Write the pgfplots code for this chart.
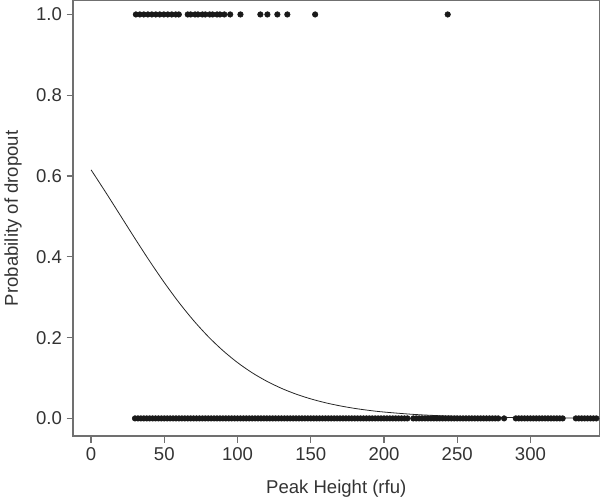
\documentclass[border=0pt]{standalone}
\usepackage{fontspec}
\setmainfont{Liberation Sans}
\usepackage{pgfplots}
\pgfplotsset{compat=1.18}
\definecolor{framegray}{HTML}{707070}
\definecolor{textgray}{HTML}{333333}
\begin{document}
\begin{tikzpicture}
\begin{axis}[
  width=397pt, height=328.5pt, scale only axis,
  xmin=-12.2, xmax=347, ymin=-0.0436, ymax=1.034,
  xtick={0,50,100,150,200,250,300},
  ytick={0,0.2,0.4,0.6,0.8,1.0},
  yticklabel style={/pgf/number format/.cd,fixed,fixed zerofill,precision=1},
  /pgf/number format/assume math mode=true,
  tick align=outside, tick pos=left,
  major tick length=5pt,
  axis line style={framegray, line width=1.1pt},
  every tick/.style={framegray, line width=0.9pt},
  ticklabel style={font=\fontsize{14}{16}\selectfont, text=textgray},
  label style={font=\fontsize{14}{16}\selectfont, text=textgray},
  xlabel={Peak Height (rfu)},
  ylabel={Probability of dropout},
  xlabel style={yshift=-8pt},
  ylabel style={yshift=4pt},
]
% fitted curve
\addplot[no marks, black!85, line width=0.6pt, smooth] coordinates {
  (0,0.6154) (10,0.5597) (20,0.5025) (30,0.4452) (40,0.3894) (50,0.3363)
  (60,0.2870) (70,0.2423) (80,0.2026) (90,0.1680) (100,0.1382) (110,0.1130)
  (120,0.0920) (130,0.0745) (140,0.0601) (150,0.0484) (160,0.0388) (170,0.0311)
  (180,0.0248) (190,0.0198) (200,0.0158) (220,0.0100) (240,0.0064) (260,0.0040)
  (280,0.0025) (300,0.0016) (320,0.0010) (340,0.0006)
};
% dropouts (1)
\addplot[only marks, mark=*, mark size=2.1pt, black!90] coordinates {
  (30.6,1) (33.3,1) (36,1) (38.8,1) (41.5,1) (44.2,1) (46.9,1) (49.7,1)
  (52.4,1) (55.1,1) (57.8,1) (59.9,1)
  (66,1) (68,1) (71,1) (73,1) (76,1) (78,1) (81,1) (83,1) (86,1) (88,1)
  (91,1) (95,1) (102,1) (115.6,1) (120.4,1) (127.2,1) (134,1) (153,1) (243.5,1)
};
% no dropouts (0)
\addplot[only marks, mark=*, mark size=2.1pt, black!90] coordinates {
  (30,0) (32,0) (34,0) (36,0) (38,0) (40,0) (42,0) (44,0) (46,0) (48,0)
  (50,0) (52,0) (54,0) (56,0) (58,0) (60,0) (62,0) (64,0) (66,0) (68,0)
  (70,0) (72,0) (74,0) (76,0) (78,0) (80,0) (82,0) (84,0) (86,0) (88,0)
  (90,0) (92,0) (94,0) (96,0) (98,0) (100,0) (102,0) (104,0) (106,0) (108,0)
  (110,0) (112,0) (114,0) (116,0) (118,0) (120,0) (122,0) (124,0) (126,0) (128,0)
  (130,0) (132,0) (134,0) (136,0) (138,0) (140,0) (142,0) (144,0) (146,0) (148,0)
  (150,0) (152,0) (154,0) (156,0) (158,0) (160,0) (162,0) (164,0) (166,0) (168,0)
  (170,0) (172,0) (174,0) (176,0) (178,0) (180,0) (182,0) (184,0) (186,0) (188,0)
  (190,0) (192,0) (194,0) (196,0) (198,0) (200,0) (202,0) (204,0) (206,0) (208,0)
  (210,0) (212,0) (214,0) (216,0) (220,0) (222,0) (224,0) (226,0) (228,0)
  (230,0) (232,0) (234,0) (236,0) (238,0) (240,0) (242,0) (244,0) (246,0) (248,0)
  (250,0) (252,0) (254,0) (256,0) (258,0) (260,0) (262,0) (264,0) (266,0) (268,0)
  (270,0) (272,0) (274,0) (276,0) (278,0) (282,0) (290,0) (292,0) (294,0) (296,0)
  (298,0) (300,0) (302,0) (304,0) (306,0) (308,0) (310,0) (312,0) (314,0) (316,0)
  (318,0) (320,0) (322,0) (331,0) (333,0) (335,0) (337,0) (339,0) (341,0) (343,0)
  (345,0)
};
\end{axis}
\end{tikzpicture}
\end{document}
